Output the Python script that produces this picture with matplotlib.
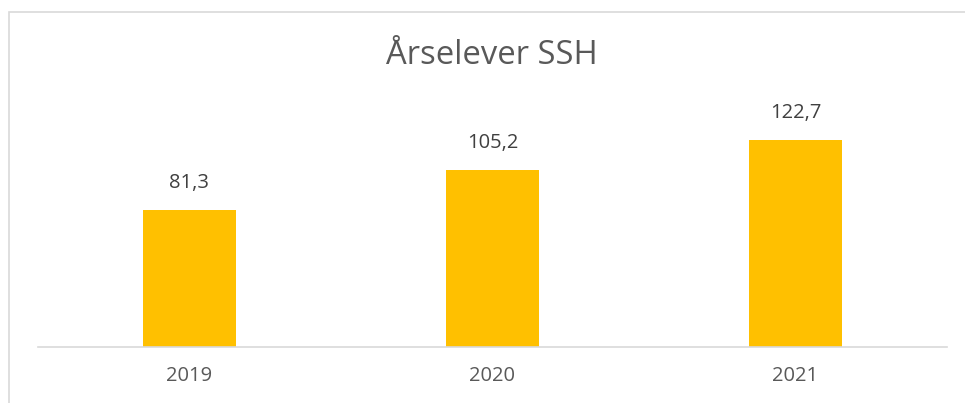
import matplotlib.pyplot as plt
from matplotlib.patches import Rectangle

years = ["2019", "2020", "2021"]
values = [81.3, 105.2, 122.7]
labels = ["81,3", "105,2", "122,7"]

plt.rcParams['font.family'] = ['Open Sans', 'DejaVu Sans']

fig = plt.figure(figsize=(9.65, 4.03), dpi=100)
W, H = 965, 403

# light grey chart border (top/left visible)
fig.patches.append(Rectangle((9 / W, -0.1), 1.1, 1 - 12 / H + 0.1, transform=fig.transFigure,
                             fill=False, edgecolor='#d9d9d9', linewidth=1.2))

ax = fig.add_axes([38 / W, 1 - 347 / H, (947 - 38) / W, (347 - 111) / H])
x = range(len(years))
ax.bar(x, values, width=0.31, color='#FFC000', zorder=2)
ax.set_xlim(-0.5, 2.5)
ax.set_ylim(0, 140)

for xi, v, lab in zip(x, values, labels):
    ax.annotate(lab, (xi, v), xytext=(0, 12), textcoords='offset points',
                ha='center', va='bottom', fontsize=14.5, color='#404040')

ax.set_xticks(list(x))
ax.set_xticklabels(years, fontsize=14.5, color='#595959')
ax.tick_params(axis='x', length=0, pad=14)
ax.set_yticks([])
for s in ['top', 'right', 'left']:
    ax.spines[s].set_visible(False)
ax.spines['bottom'].set_color('#d9d9d9')
ax.spines['bottom'].set_linewidth(1.2)

fig.text(492 / W, 1 - 56 / H, "Årselever SSH", ha='center', va='center',
         fontsize=23.6, color='#595959')

fig.savefig('out.png', dpi=100)
